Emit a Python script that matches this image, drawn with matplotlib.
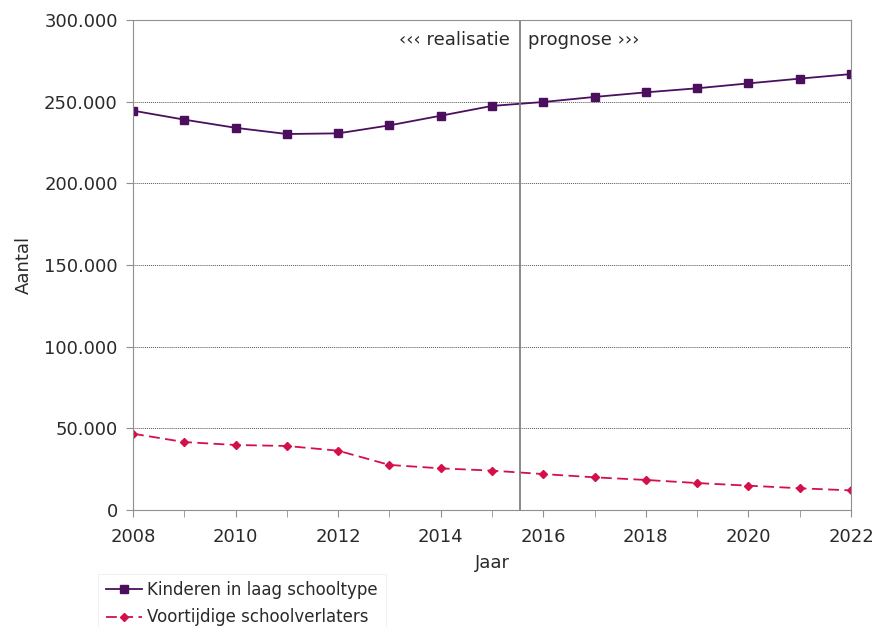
#!/usr/bin/env python3
"""Kinderen in laag schooltype en voortijdige schoolverlaters, 2008-2022"""
import matplotlib
matplotlib.use('Agg')
import matplotlib.pyplot as plt
import matplotlib.ticker as mticker

# data
years = list(range(2008, 2023))
kinderen = [244500, 239000, 234000, 230200, 230600, 235500, 241400, 247400,
            249800, 252900, 255700, 258200, 261200, 264100, 266900]
verlaters = [46700, 41600, 39800, 39200, 36300, 27600, 25500, 24100,
             22000, 20000, 18400, 16500, 14900, 13300, 12000]
split_year = 2015.55
y_ticks = [0, 50000, 100000, 150000, 200000, 250000, 300000]

purple = '#4b0f5e'
red = '#d4104a'
txt = '#2a2a2a'
fs = 13

fig = plt.figure(figsize=(8.75, 6.27), dpi=100)
ax = fig.add_axes([0.152, 0.1866, 0.8206, 0.7815])

ax.plot(years, kinderen, color=purple, marker='s', markersize=6,
        linewidth=1.3, label='Kinderen in laag schooltype')
ax.plot(years, verlaters, color=red, marker='D', markersize=4.5,
        linewidth=1.3, linestyle=(0, (6, 3)), label='Voortijdige schoolverlaters')

ax.axvline(split_year, color='#808080', linewidth=1.3)
ax.text(split_year - 0.2, 288000, '‹‹‹ realisatie', ha='right', va='center',
        fontsize=fs, color=txt)
ax.text(split_year + 0.15, 288000, 'prognose ›››', ha='left', va='center',
        fontsize=fs, color=txt)

ax.set_xlim(2008, 2022)
ax.set_ylim(0, 300000)
ax.set_xticks(range(2008, 2023, 2))
ax.set_xticks(years, minor=True)
ax.set_yticks(y_ticks)
ax.yaxis.set_major_formatter(mticker.FuncFormatter(
    lambda v, p: '{:,.0f}'.format(v).replace(',', '.')))
ax.grid(True, axis='y', color='#555555', linestyle=(0, (1, 1)), linewidth=0.7)
ax.set_axisbelow(True)

for side in ['left', 'right', 'bottom', 'top']:
    ax.spines[side].set_color('#909090')

ax.tick_params(axis='both', which='both', colors='#909090', labelcolor=txt,
               labelsize=fs, length=5, direction='out')
ax.tick_params(axis='x', which='both', pad=8)
ax.tick_params(axis='y', pad=6)
ax.set_xlabel('Jaar', fontsize=fs, labelpad=6, color=txt)
ax.set_ylabel('Aantal', fontsize=fs, labelpad=8, color=txt)

leg = ax.legend(loc='upper left', bbox_to_anchor=(-0.06, -0.113), frameon=True,
                fontsize=12, handlelength=2.2, borderpad=0.45, labelspacing=0.55,
                handletextpad=0.3, fancybox=False)
for t in leg.get_texts():
    t.set_color(txt)
leg.get_frame().set_edgecolor('#eeeeee')
leg.get_frame().set_linewidth(0.8)

fig.savefig('out.png', dpi=100)
